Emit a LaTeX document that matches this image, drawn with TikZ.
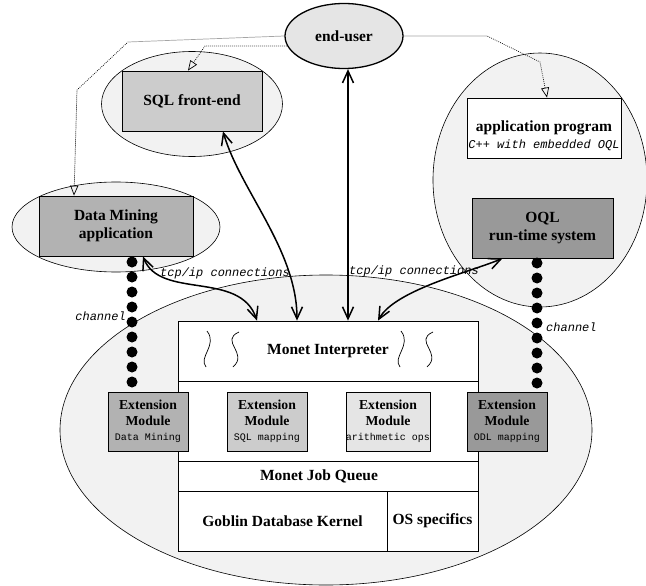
\documentclass[tikz,border=0pt]{standalone}
\usepackage{fontspec}
\setmainfont{Liberation Serif}
\setmonofont{Liberation Mono}
\usetikzlibrary{shapes.geometric,arrows.meta}
\definecolor{hostgray}{gray}{0.95}
\definecolor{eugray}{gray}{0.9}
\newcommand\modsub[1]{{\mdseries\ttfamily\fontsize{10}{12}\selectfont #1}}
\begin{document}
\begin{tikzpicture}[x=1pt, y=-1pt,
    host/.style={draw, ellipse, fill=hostgray, line width=0.6pt, inner sep=0},
    box/.style={draw, rectangle, line width=0.8pt, inner sep=0, align=center, font=\bfseries\fontsize{15.5}{18}\selectfont},
    layer/.style={box, fill=white},
    extmod/.style={box, minimum width=80pt, minimum height=59pt, font=\bfseries\fontsize{13.7}{15.5}\selectfont},
    chan/.style={circle, fill=black, inner sep=0, minimum size=11pt},
    note/.style={inner sep=1pt, font=\ttfamily\itshape\fontsize{12}{14}\selectfont},
    tcp/.style={line width=1.5pt, {Straight Barb[length=12pt,width=11pt]}-{Straight Barb[length=12pt,width=11pt]}},
    usage/.style={line width=0.7pt, dash pattern=on 0.8pt off 1.2pt, -{Triangle[open,length=10pt,width=8pt]}}]
      \useasboundingbox (0,0) rectangle (646,586);

      % Hosts
      \node[host, minimum width=532pt, minimum height=310pt] (server) at (326,430) {};
      \node[host, minimum width=214pt, minimum height=254pt] (oqlhost) at (540,180) {};
      \node[host, minimum width=181pt, minimum height=105pt] (sqlhost) at (192,104) {};
      \node[host, minimum width=208pt, minimum height=90pt] (dmhost) at (116,227) {};
      \node[host, fill=eugray, line width=1.3pt, minimum width=118pt, minimum height=65pt, font=\bfseries\fontsize{15.5}{18}\selectfont] (eu) at (344,36) {end-user};

      % Applications
      \node[box, fill=black!20, minimum width=140pt, minimum height=60pt] (sql) at (192,101) {SQL front-end};
      \node[box, fill=black!30, minimum width=154pt, minimum height=60pt] (dm) at (116,226) {Data Mining\\application};
      \node[box, fill=white, minimum width=154pt, minimum height=60pt,
            label={[yshift=-8pt, align=center, font=\bfseries\fontsize{15.5}{17}\selectfont]center:application program\\{\mdseries\ttfamily\itshape\fontsize{12}{14}\selectfont C++ with embedded OQL}}] (app) at (544,128) {};
      \node[box, fill=black!40, minimum width=141pt, minimum height=60pt] (oql) at (542.5,228) {OQL\\run-time system};

      % Monet server
      \node[layer, minimum width=300pt, minimum height=60pt] (interp) at (328,351) {Monet Interpreter};
      \node[layer, minimum width=300pt, minimum height=80pt] (extrow) at (328,421) {};
      \node[layer, minimum width=300pt, minimum height=30pt] (jobq) at (328,476) {\hspace*{-18pt}Monet Job Queue};
      \node[layer, minimum width=209pt, minimum height=60pt] (kernel) at (282.5,521) {Goblin Database Kernel};
      \node[layer, minimum width=91pt, minimum height=60pt] (ossp) at (432.5,521) {OS specifics};

      % Extension modules
      \node[extmod, fill=black!30] (ext1) at (148,421.5) {Extension\\Module\\\modsub{Data Mining}};
      \node[extmod, fill=black!20] (ext2) at (267,421.5) {Extension\\Module\\\modsub{SQL mapping}};
      \node[extmod, fill=black!10] (ext3) at (388,421.5) {Extension\\Module\\\modsub{arithmetic ops}};
      \node[extmod, fill=black!40] (ext4) at (507,421.5) {Extension\\Module\\\modsub{ODL mapping}};

      % Threads
      \foreach \sx in {0,194} {
        \draw[line width=0.7pt] ({207+\sx},331) .. controls ({218+\sx},345) and ({198+\sx},357) .. ({206+\sx},367);
        \draw[line width=0.7pt] ({239+\sx},332) .. controls ({219+\sx},341) and ({249+\sx},353) .. ({233+\sx},367);
      }

      % Channels
      \foreach \i in {0,...,8} {
        \node[chan] (cl\i) at (132,{262+15*\i}) {};
        \node[chan] (cr\i) at (537,{263+15*\i}) {};
      }
      \node[note, anchor=east] (chl) at (127,316) {channel};
      \node[note, anchor=west] (chr) at (545,327) {channel};

      % tcp/ip connections
      \node[note] (tcpl) at (225,273) {tcp/ip connections};
      \node[note] (tcpr) at (414,271) {tcp/ip connections};
      \draw[tcp] ([xshift=4pt]eu.south) -- ([xshift=20pt]interp.north);
      \draw[tcp] ([xshift=31pt]sql.south) .. controls (240,190) and (297,250) .. ([xshift=-31pt]interp.north);
      \draw[tcp] ([xshift=27pt]dm.south) .. controls (160,300) and (240,270) .. ([xshift=-71pt]interp.north);
      \draw[tcp] ([xshift=-40pt]oql.south) .. controls (470,272) and (395,290) .. ([xshift=50pt]interp.north);

      % Usage
      \draw[usage] (eu.west) -- (128,42) -- (77,90) -- ([xshift=-42pt]dm.north);
      \draw[usage] (eu.190) -- (205,46) -- ([xshift=-4pt]sql.north);
      \draw[usage] (eu.east) -- (487,36) -- (540,62) -- ([xshift=3pt]app.north);
    \end{tikzpicture}
\end{document}
